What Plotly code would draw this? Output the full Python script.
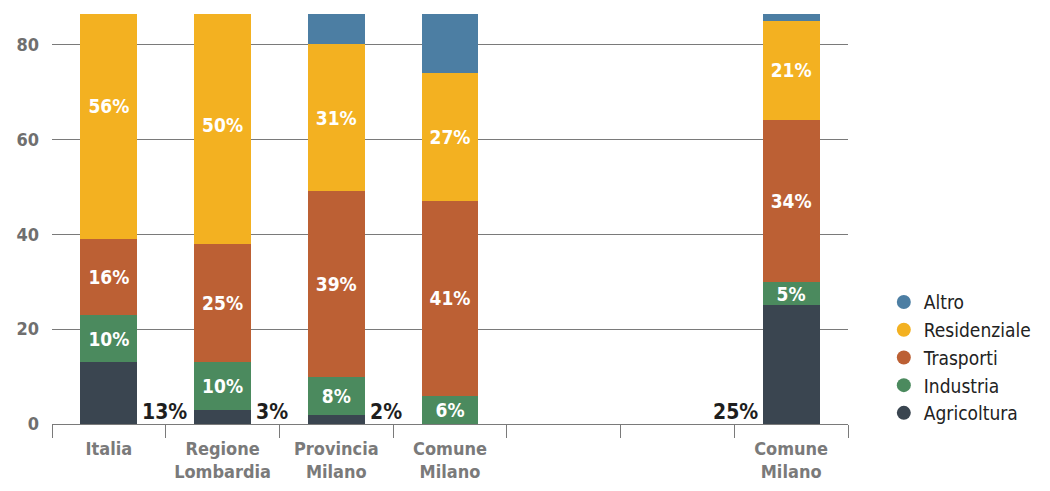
import plotly.graph_objects as go

# Ripartizione delle emissioni per settore (%)
categories = ["Italia", "Regione<br>Lombardia", "Provincia<br>Milano", "Comune<br>Milano", "", "", "Comune<br>Milano"]
agricoltura = [13, 3, 2, 0, None, None, 25]
industria = [10, 10, 8, 6, None, None, 5]
trasporti = [16, 25, 39, 41, None, None, 34]
residenziale = [56, 50, 31, 27, None, None, 21]
altro = [5, 12, 20, 26, None, None, 15]

y_ticks = [0, 20, 40, 60, 80]

FONT = "DejaVu Sans Condensed, Liberation Sans Narrow, sans-serif"
BAR_WIDTH = 0.5

series = [
    ("Agricoltura", agricoltura, "#3a4550"),
    ("Industria", industria, "#4b8a5e"),
    ("Trasporti", trasporti, "#bc6034"),
    ("Residenziale", residenziale, "#f3b121"),
    ("Altro", altro, "#4c7ea3"),
]

# sectors whose shares are written inside the bars
inside_labelled = {"Industria", "Trasporti", "Residenziale"}

x = list(range(len(categories)))

fig = go.Figure()

for name, values, color in series:
    if name in inside_labelled:
        labels = [f"{v}%" if v else "" for v in values]
    else:
        labels = None
    fig.add_trace(go.Bar(
        x=x, y=values, name=name,
        width=BAR_WIDTH,
        marker=dict(color=color, line=dict(width=0)),
        text=labels,
        textposition="inside" if labels else "none",
        insidetextanchor="middle",
        constraintext="none",
        textfont=dict(family=FONT, size=19, color="white", weight="bold"),
        showlegend=False,
        hoverinfo="skip",
    ))

# circular legend entries
for name, values, color in reversed(series):
    fig.add_trace(go.Scatter(
        x=[None], y=[None], mode="markers", name=name,
        marker=dict(color=color, size=14, symbol="circle"),
        showlegend=True,
    ))

# Agricoltura labels beside the bars
last = max(i for i, v in enumerate(agricoltura) if v is not None)
for i, v in enumerate(agricoltura):
    if not v:
        continue
    right_side = i != last
    fig.add_annotation(
        x=i + (BAR_WIDTH / 2 if right_side else -BAR_WIDTH / 2),
        y=0, xref="x", yref="y",
        text=f"{v}%", showarrow=False,
        xanchor="left" if right_side else "right",
        yanchor="bottom",
        xshift=3 if right_side else -3,
        yshift=-2,
        font=dict(family=FONT, size=21, color="#1e1e1e", weight="bold"),
    )

fig.update_layout(
    width=1050, height=491,
    margin=dict(l=52, r=202, t=14, b=67, autoexpand=False),
    barmode="stack",
    paper_bgcolor="white",
    plot_bgcolor="white",
    legend=dict(
        x=1.045, xanchor="left", y=-0.02, yanchor="bottom",
        traceorder="normal",
        font=dict(family=FONT, size=19, color="#222222"),
        itemclick=False, tracegroupgap=0,
    ),
    xaxis=dict(
        automargin=False,
        range=[-0.5, len(categories) - 0.5],
        tickvals=x, ticktext=categories,
        ticks="outside", ticklen=8, tickcolor="rgba(0,0,0,0)",
        minor=dict(
            tickvals=[i - 0.5 for i in range(len(categories) + 1)],
            ticks="outside", ticklen=13, tickcolor="#7a7a7a", tickwidth=1.3,
        ),
        showline=True, linecolor="#7a7a7a", linewidth=1.3,
        showgrid=False, zeroline=False,
        tickfont=dict(family=FONT, size=18, color="#7a7a7a", weight="bold"),
    ),
    yaxis=dict(
        automargin=False,
        range=[0, 86.4],
        tickvals=y_ticks,
        showgrid=True, gridcolor="#7a7a7a", gridwidth=1.3,
        zeroline=False, showline=False, ticks="",
        ticklabelstandoff=12,
        tickfont=dict(family=FONT, size=18, color="#6f6f6f", weight="bold"),
    ),
)

fig.write_html("out.html")
